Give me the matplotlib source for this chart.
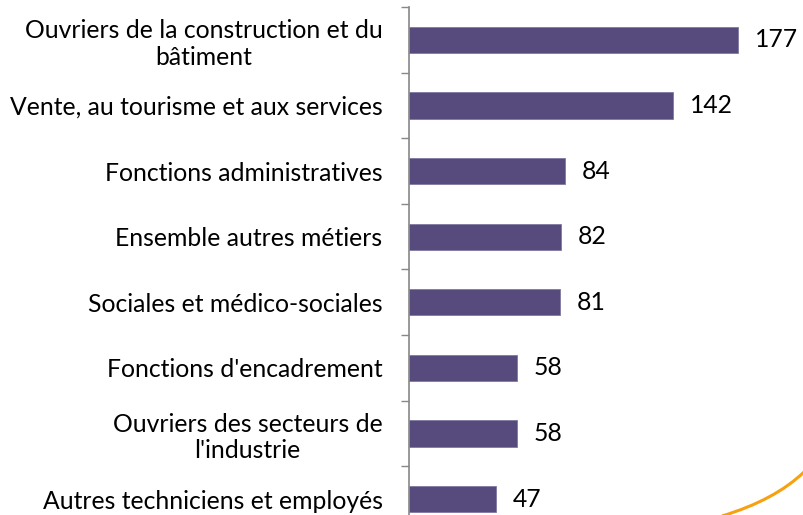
import matplotlib
matplotlib.use("Agg")
import matplotlib.pyplot as plt
from matplotlib.patches import PathPatch
from matplotlib.path import Path

categories = [
    "Ouvriers de la construction et du\nbâtiment",
    "Vente, au tourisme et aux services",
    "Fonctions administratives",
    "Ensemble autres métiers",
    "Sociales et médico-sociales",
    "Fonctions d'encadrement",
    "Ouvriers des secteurs de\nl'industrie",
    "Autres techniciens et employés",
]
values = [177, 142, 84, 82, 81, 58, 58, 47]

W, H = 804, 515
fig = plt.figure(figsize=(W / 100, H / 100), dpi=100)
fig.patch.set_facecolor("white")

ax_left = 409 / W
ax_top = 1 - 7 / H
ax_bottom = 1 - 532 / H
ax = fig.add_axes([ax_left, ax_bottom, 1 - ax_left, ax_top - ax_bottom])

FONT = "Lato"
FS = 17.8
n = len(categories)
ypos = list(range(n))
ax.barh(ypos, values, height=0.4, color="#574A7C", edgecolor="#7F79A3", linewidth=0.6)
ax.set_ylim(n - 0.5, -0.5)
ax.set_xlim(0, 212.4)

for y, v in zip(ypos, values):
    ax.annotate(str(v), xy=(v, y), xytext=(12, 0), textcoords="offset points",
                va="center", ha="left", fontsize=FS, family=FONT, color="black")

ax.set_yticks([i - 0.5 for i in range(n + 1)])
ax.set_yticklabels([])
ax.set_yticks(ypos, minor=True)
ax.set_yticklabels(categories, minor=True, fontsize=FS, family=FONT,
                   multialignment="center", linespacing=1.2)
ax.tick_params(axis="y", which="major", length=6, width=1, color="#888888", direction="out")
ax.tick_params(axis="y", which="minor", length=0, pad=19)

ax.set_xticks([])
for s in ["top", "right", "bottom"]:
    ax.spines[s].set_visible(False)
ax.spines["left"].set_color("#888888")
ax.spines["left"].set_linewidth(1.2)

# decorative orange swoosh at the bottom-right corner
verts = [(722 / W, 1 - 516 / H), (775 / W, 1 - 500 / H), (804 / W, 1 - 472 / H)]
path = Path(verts, [Path.MOVETO, Path.CURVE3, Path.CURVE3])
fig.add_artist(PathPatch(path, transform=fig.transFigure, facecolor="none",
                         edgecolor="#F7A10F", linewidth=2.2))

fig.savefig("out.png", dpi=100)
